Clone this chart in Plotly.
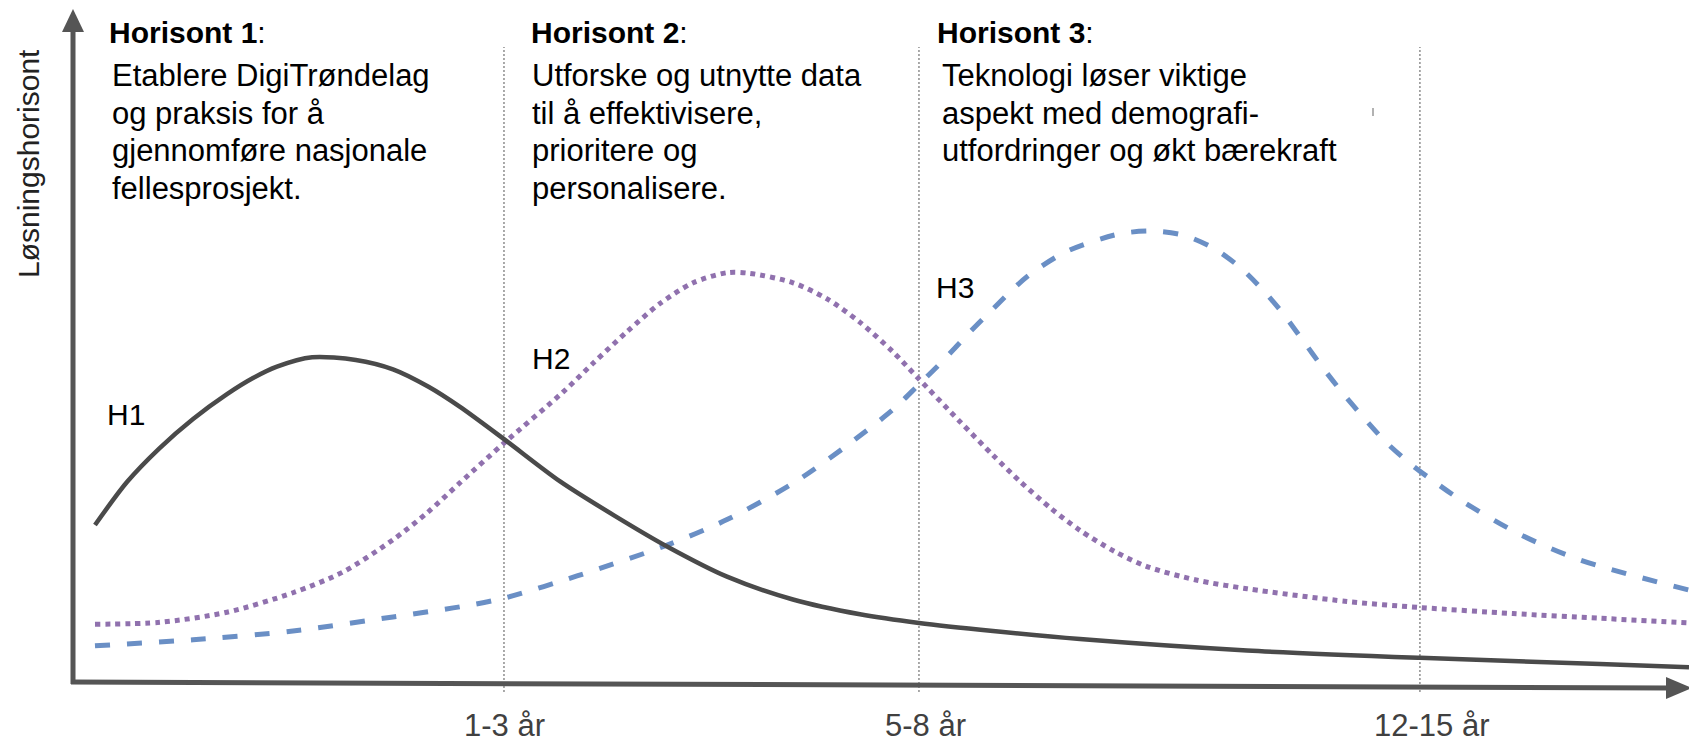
import plotly.graph_objects as go

# ---------------- data (abstract units: x = time along axis 0..100, y = level 0..100) ----------------
tick_labels = ["1-3 år", "5-8 år", "12-15 år"]
tick_pos = [26.67, 52.35, 83.35]

h1_x = [1.36, 3.34, 5.38, 7.43, 9.53, 11.14, 12.62, 14.8, 17.5, 19.80, 22.0, 23.95, 26.67,
        30.14, 33.5, 36.76, 40.47, 44.55, 48.70, 52.35, 56.93, 62.31, 72.65, 83.35, 94.49, 100]
h1_y = [23.4, 29.8, 34.9, 39.2, 42.9, 45.3, 47.0, 48.4, 48.0, 46.6, 44.0, 41.0, 36.2,
        29.9, 24.8, 20.2, 15.7, 12.3, 10.1, 8.8, 7.6, 6.4, 4.7, 3.6, 2.7, 2.2]

h2_x = [1.36, 5.38, 9.53, 13.61, 16.71, 19.80, 21.91, 23.95, 26.67, 30.32, 32.18, 34.28, 36.32,
        38.37, 40.47, 41.89, 44.55, 46.66, 48.70, 50.74, 52.29, 54.89, 56.93, 58.60, 60.5,
        62.31, 64.5, 66.46, 69.5, 72.65, 78.84, 83.35, 89.11, 94.49, 100]
h2_y = [8.6, 8.9, 10.4, 13.3, 16.4, 21.2, 25.2, 29.7, 35.6, 43.2, 47.5, 52.2, 56.4,
        59.5, 61.0, 60.9, 59.5, 57.1, 53.6, 49.2, 45.3, 38.8, 33.8, 29.9, 25.9,
        22.6, 19.4, 17.2, 15.2, 13.9, 12.0, 11.1, 10.2, 9.5, 8.8]

h3_x = [1.36, 7.43, 13.61, 19.80, 23.95, 26.67, 31.19, 36.76, 40.47, 44.55, 47.65, 50.74, 52.29,
        53.84, 55.4, 56.93, 59.03, 61.51, 64.79, 66.77, 68.69, 70.54, 72.22, 73.64, 74.88,
        76.11, 77.35, 78.59, 79.83, 81.31, 82.92, 84.16, 86.01, 89.54, 93.25, 100]
h3_y = [5.4, 6.3, 7.6, 9.7, 11.2, 12.5, 15.8, 20.4, 24.2, 29.6, 34.8, 40.6, 44.2,
        47.9, 51.9, 55.6, 60.4, 64.2, 66.8, 67.2, 66.6, 64.7, 61.8, 58.4, 54.9,
        50.9, 46.8, 43.0, 39.5, 35.6, 32.2, 30.0, 26.9, 22.0, 18.2, 13.7]

curve_names = ["H1", "H2", "H3"]
headers = ["Horisont 1", "Horisont 2", "Horisont 3"]
bodies = [
    ["Etablere DigiTrøndelag", "og praksis for å", "gjennomføre nasjonale", "fellesprosjekt."],
    ["Utforske og utnytte data", "til å effektivisere,", "prioritere og", "personalisere."],
    ["Teknologi løser viktige", "aspekt med demografi-", "utfordringer og økt bærekraft"],
]
y_title = "Løsningshorisont"

# ---------------- layout helpers (pixel -> axis units) ----------------
W, H = 1689, 747
OX, OY = 73, 682
SX, SY = 16.16, 6.71


def X(px):
    return (px - OX) / SX


def Y(py):
    return (OY - py) / SY


FONT = "Liberation Sans, Arial, sans-serif"
AXIS_C = "#555555"
BLACK_C = "#4A4A4A"
PURPLE_C = "#9071AE"
BLUE_C = "#6A8FC5"

fig = go.Figure()

fig.add_trace(go.Scatter(x=h3_x, y=h3_y, mode="lines", name="H3",
                         line=dict(color=BLUE_C, width=5, dash="15px,17px", shape="spline", smoothing=0.8),
                         hoverinfo="skip"))
fig.add_trace(go.Scatter(x=h2_x, y=h2_y, mode="lines", name="H2",
                         line=dict(color=PURPLE_C, width=5, dash="dot", shape="spline", smoothing=0.8),
                         hoverinfo="skip"))
fig.add_trace(go.Scatter(x=h1_x, y=h1_y, mode="lines", name="H1",
                         line=dict(color=BLACK_C, width=4.5, shape="spline", smoothing=0.8),
                         hoverinfo="skip"))

shapes = []
# dotted period separators
for tp in tick_pos:
    shapes.append(dict(type="line", xref="x", yref="y", x0=tp, x1=tp, y0=Y(692), y1=Y(47),
                       line=dict(color="#555555", width=1, dash="2px,2px"), layer="below"))
# axes
shapes.append(dict(type="line", xref="x", yref="y", x0=X(73), y0=Y(684), x1=X(73), y1=Y(28),
                   line=dict(color=AXIS_C, width=5)))
shapes.append(dict(type="line", xref="x", yref="y", x0=X(71), y0=Y(682), x1=X(1670), y1=Y(688),
                   line=dict(color=AXIS_C, width=5)))
# arrow heads
shapes.append(dict(type="path", xref="x", yref="y",
                   path=f"M {X(73)},{Y(9)} L {X(84)},{Y(32)} L {X(62)},{Y(32)} Z",
                   fillcolor=AXIS_C, line=dict(width=0)))
shapes.append(dict(type="path", xref="x", yref="y",
                   path=f"M {X(1692)},{Y(688)} L {X(1666)},{Y(677)} L {X(1666)},{Y(699)} Z",
                   fillcolor=AXIS_C, line=dict(width=0)))
# small stray tick mark seen in the original
shapes.append(dict(type="line", xref="x", yref="y", x0=X(1373), x1=X(1373), y0=Y(108), y1=Y(116),
                   line=dict(color="#999999", width=1.5)))

ann = []
# headers
HFS = 30
for hx, txt in zip([110, 532, 938], headers):
    ann.append(dict(x=X(hx - 3), y=Y(43 - 0.3465 * HFS), xref="x", yref="y", text=f"<b>{txt}</b>:",
                    showarrow=False, xanchor="left", yanchor="middle",
                    font=dict(family=FONT, size=HFS, color="#000000")))
# body text
BFS = 31
baselines = [86, 124, 161, 199]
for bx, lines in zip([113, 533, 943], bodies):
    for bl, line in zip(baselines, lines):
        ann.append(dict(x=X(bx - 3), y=Y(bl - 0.3465 * BFS), xref="x", yref="y", text=line,
                        showarrow=False, xanchor="left", yanchor="middle",
                        font=dict(family=FONT, size=BFS, color="#000000")))
# curve labels
LFS = 30
for (lx, lb), name in zip([(108, 425), (533, 369), (937, 298)], curve_names):
    ann.append(dict(x=X(lx - 3), y=Y(lb - 0.3465 * LFS), xref="x", yref="y", text=name,
                    showarrow=False, xanchor="left", yanchor="middle",
                    font=dict(family=FONT, size=LFS, color="#000000")))
# tick labels
TFS = 31
for tp, lab, xs in zip(tick_pos, tick_labels, [1, 7, 12]):
    ann.append(dict(x=tp, y=Y(706), xref="x", yref="y", text=lab, xshift=xs,
                    showarrow=False, xanchor="center", yanchor="top",
                    font=dict(family=FONT, size=TFS, color="#404040")))
# y axis title
ann.append(dict(x=X(28), y=Y(164), xref="x", yref="y", text=y_title, textangle=-90,
                showarrow=False, xanchor="center", yanchor="middle",
                font=dict(family=FONT, size=30, color="#222222")))

fig.update_layout(
    width=W, height=H,
    margin=dict(l=0, r=0, t=0, b=0),
    paper_bgcolor="white", plot_bgcolor="white",
    showlegend=False,
    xaxis=dict(range=[X(0), X(W)], visible=False, fixedrange=True),
    yaxis=dict(range=[Y(H), Y(0)], visible=False, fixedrange=True),
    shapes=shapes, annotations=ann,
)

fig.write_html("out.html", config={"displayModeBar": False},
               post_script="document.body.style.margin='0px';document.body.style.overflow='hidden';")
